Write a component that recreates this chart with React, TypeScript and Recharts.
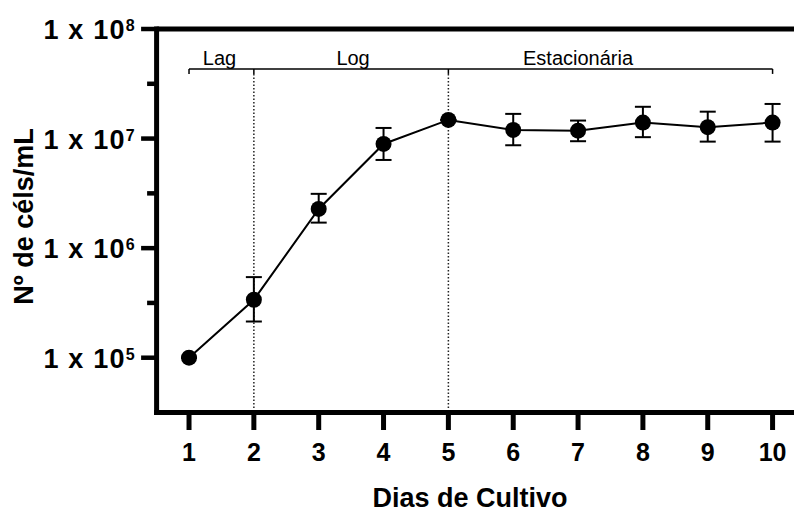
import { LineChart, Line, XAxis, YAxis, ErrorBar, ReferenceLine, ReferenceDot } from "recharts"

const FONT = "'Liberation Sans', Arial, Helvetica, sans-serif"

// culture growth: mean cell density per day, with upper/lower limits of the error bars
const days = [1, 2, 3, 4, 5, 6, 7, 8, 9, 10]
const meanCells = [1.0e5, 3.38e5, 2.28e6, 8.93e6, 1.48e7, 1.2e7, 1.18e7, 1.4e7, 1.27e7, 1.4e7]
const upperCells = [1.0e5, 5.44e5, 3.13e6, 1.25e7, 1.48e7, 1.68e7, 1.46e7, 1.95e7, 1.76e7, 2.07e7]
const lowerCells = [1.0e5, 2.14e5, 1.71e6, 6.38e6, 1.48e7, 8.69e6, 9.46e6, 1.03e7, 9.38e6, 9.38e6]

const dayTicks = [1, 2, 3, 4, 5, 6, 7, 8, 9, 10]
const decadeExponents = [5, 6, 7, 8]
const halfDecadeExponents = [5.5, 6.5, 7.5]

// growth phases: boundaries (days), names and where each name sits
const phaseBounds = [1, 2, 5, 10]
const phaseDividers = [2, 5]
const phaseNames = ["Lag", "Log", "Estacionária"]
const phaseLabelDays = [1.47, 3.53, 7]

const xMin = 0.5
const xMax = 10.5
const yMin = Math.pow(10, 4.5)
const yMax = 1e8
const bracketLevel = Math.pow(10, 7.635)
const bracketTickEnd = Math.pow(10, 7.59)

const data = days.map((day, i) => ({
  day,
  cells: meanCells[i],
  err: [meanCells[i] - lowerCells[i], upperCells[i] - meanCells[i]],
}))

const yTicks = [...decadeExponents, ...halfDecadeExponents].sort((a, b) => a - b).map((e) => Math.pow(10, e))

function YTick(props: any) {
  const { x, y, payload } = props
  const exp = Math.log10(payload.value)
  const major = Math.abs(exp - Math.round(exp)) < 1e-6
  return (
    <g>
      <line x1={x - (major ? 15.5 : 9.5)} x2={x} y1={y} y2={y} stroke="#000" strokeWidth={4.5} />
      {major && (
        <text
          x={x - 22}
          y={y + 10.3}
          textAnchor="end"
          fontFamily={FONT}
          fontSize={27}
          fontWeight="bold"
          letterSpacing={1.2}
          fill="#000"
        >
          1 x 10
          <tspan dy={-8} fontSize={16} letterSpacing={0}>
            {Math.round(exp)}
          </tspan>
        </text>
      )}
    </g>
  )
}

function XTick(props: any) {
  const { x, y, payload } = props
  return (
    <text x={x} y={y + 31} textAnchor="middle" fontFamily={FONT} fontSize={25} fontWeight="bold" fill="#000">
      {payload.value}
    </text>
  )
}

const yTitle = () => (
  <text
    x={33}
    y={216.5}
    transform="rotate(-90 33 216.5)"
    textAnchor="middle"
    fontFamily={FONT}
    fontSize={27}
    fontWeight="bold"
    fill="#000"
  >
    Nº de céls/mL
  </text>
)

const xTitle = () => (
  <text x={470} y={507} textAnchor="middle" fontFamily={FONT} fontSize={27} fontWeight="bold" fill="#000">
    Dias de Cultivo
  </text>
)

const phaseLabel = (name: string) => (props: any) => {
  const { viewBox } = props
  return (
    <text x={viewBox.x} y={viewBox.y - 4} textAnchor="middle" fontFamily={FONT} fontSize={20} fill="#000">
      {name}
    </text>
  )
}

export default function App() {
  return (
    <div style={{ position: "absolute", left: 0, top: 0, width: 794, height: 513, overflow: "hidden", background: "#fff" }}>
      <LineChart width={805} height={513} data={data} margin={{ top: 29, right: 0, bottom: 0, left: 0 }}>
        <XAxis
          dataKey="day"
          type="number"
          domain={[xMin, xMax]}
          ticks={dayTicks}
          interval={0}
          height={100.5}
          axisLine={{ stroke: "#000", strokeWidth: 5, strokeLinecap: "square" }}
          tickLine={{ stroke: "#000", strokeWidth: 5 }}
          tickSize={17.5}
          tickMargin={0}
          tick={<XTick />}
          label={xTitle}
        />
        <YAxis
          type="number"
          scale="log"
          domain={[yMin, yMax]}
          allowDataOverflow
          ticks={yTicks}
          interval={0}
          width={156.6}
          axisLine={{ stroke: "#000", strokeWidth: 5, strokeLinecap: "square" }}
          tickLine={false}
          tickSize={0}
          tickMargin={0}
          tick={<YTick />}
          label={yTitle}
        />

        {/* frame line along the top of the plot */}
        <ReferenceLine
          segment={[
            { x: xMin, y: yMax },
            { x: xMax, y: yMax },
          ]}
          stroke="#000"
          strokeWidth={5}
          ifOverflow="visible"
        />

        {/* phase bracket */}
        <ReferenceLine
          segment={[
            { x: phaseBounds[0], y: bracketLevel },
            { x: phaseBounds[phaseBounds.length - 1], y: bracketLevel },
          ]}
          stroke="#000"
          strokeWidth={1.5}
          ifOverflow="visible"
        />
        {phaseBounds.map((d) => (
          <ReferenceLine
            key={`tick-${d}`}
            segment={[
              { x: d, y: bracketLevel },
              { x: d, y: bracketTickEnd },
            ]}
            stroke="#000"
            strokeWidth={1.5}
            ifOverflow="visible"
          />
        ))}
        {phaseDividers.map((d) => (
          <ReferenceLine
            key={`div-${d}`}
            segment={[
              { x: d, y: bracketTickEnd },
              { x: d, y: yMin },
            ]}
            stroke="#222"
            strokeWidth={1.5}
            strokeDasharray="1.5 2"
            ifOverflow="visible"
          />
        ))}
        {phaseNames.map((name, i) => (
          <ReferenceDot
            key={name}
            x={phaseLabelDays[i]}
            y={bracketLevel}
            r={0}
            fill="none"
            stroke="none"
            ifOverflow="visible"
            label={phaseLabel(name)}
          />
        ))}

        <Line
          type="linear"
          dataKey="cells"
          stroke="#000"
          strokeWidth={2}
          dot={{ r: 8, fill: "#000", stroke: "none" }}
          activeDot={false}
          isAnimationActive={false}
        >
          <ErrorBar dataKey="err" direction="y" width={8} stroke="#000" strokeWidth={2} isAnimationActive={false} />
        </Line>
      </LineChart>
    </div>
  )
}
